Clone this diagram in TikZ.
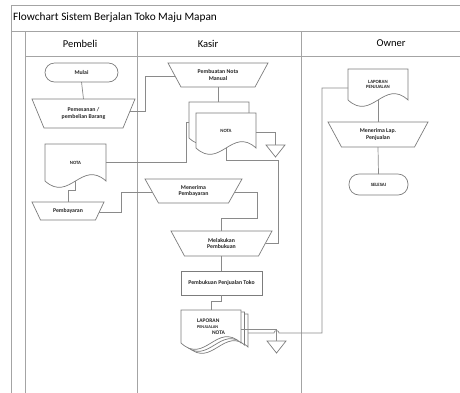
\documentclass[tikz,border=0pt]{standalone}
\usepackage{fontspec}
\setmainfont{Carlito}
\usetikzlibrary{calc,backgrounds}
\definecolor{framec}{HTML}{A4A4A4}
\definecolor{shapec}{HTML}{7C7C7C}
\definecolor{connc}{HTML}{8A8A8A}
\newcommand\wv{22}
\newcommand\docshape[1]{\draw[shp] (#1.south west) -- (#1.north west) -- (#1.north east) -- (#1.south east) .. controls ($(#1.south east)!0.4!(#1.south west)+(0,-\wv)$) and ($(#1.south west)!0.4!(#1.south east)+(0,\wv)$) .. (#1.south west) -- cycle;}
\newcommand\trapshape[2]{\draw[shp] (#1.north west) -- (#1.north east) -- ([xshift=-#2pt]#1.south east) -- ([xshift=#2pt]#1.south west) -- cycle;}
\newcommand\trishape[1]{\draw[shp] (#1.north west) -- (#1.north east) -- (#1.south) -- cycle;}
\begin{document}
\begin{tikzpicture}[x=1pt,y=-1pt,
  frame/.style={draw=framec,line width=0.9pt},
  shp/.style={draw=shapec,line width=0.7pt,fill=white},
  conn/.style={draw=connc,line width=0.7pt},
  lbl/.style={font=\fontsize{5.8}{6.8}\selectfont\bfseries,align=center,text=black!85,inner sep=0pt,outer sep=0pt},
  small/.style={font=\fontsize{4.8}{5.8}\selectfont\bfseries},
  head/.style={font=\fontsize{10.5}{12}\selectfont,text=black,inner sep=0pt},
  sz/.style n args={2}{minimum width=#1pt,minimum height=#2pt}]
\useasboundingbox (0,0) rectangle (460,392);
% title and lane headers
\node[head,anchor=west,font=\fontsize{11.3}{13}\selectfont] (title) at (13,18) {Flowchart Sistem Berjalan Toko Maju Mapan};
\node[head] (hpembeli) at (80,43.5) {Pembeli};
\node[head] (hkasir) at (208,43.5) {Kasir};
\node[head] (howner) at (391,43.5) {Owner};
% Pembeli
\node[lbl,sz={73}{19}] (mulai) at (81.5,72.5) {Mulai};
\node[lbl,sz={103}{29}] (pem) at (83.5,113.5) {Pemesanan /\\pembelian Barang};
\node[lbl,small,sz={61}{37}] (notaP) at (75.5,162.5) {NOTA};
\node[lbl,sz={72}{18}] (pby) at (68,211) {Pembayaran};
% Kasir
\node[lbl,sz={100}{24}] (pbt) at (218,75) {Pembuatan Nota\\Manual};
\node[lbl,sz={60}{36}] (nkb) at (219,120) {};
\node[lbl,small,sz={60}{35}] (nk) at (226,130.5) {NOTA};
\node[lbl,sz={19}{12}] (tri1) at (275.5,151) {};
\node[lbl,sz={97}{24}] (mpb) at (193.5,191) {Menerima\\Pembayaran};
\node[lbl,sz={101}{25}] (mel) at (221.5,243.5) {Melakukan\\Pembukuan};
\node[lbl,sz={81}{24}] (pbk) at (221.5,283) {Pembukuan Penjualan Toko};
\node[lbl,sz={60}{33}] (lapb) at (218,330.5) {};
\node[lbl,sz={60}{33}] (lapm) at (214.5,328.5) {};
\node[lbl,sz={60}{33},align=left,font=\fontsize{5.5}{6}\selectfont\bfseries] (lap) at (211,326.5) {LAPORAN\\{\fontsize{4.3}{6}\selectfont PENJUALAN}\\\hspace*{15pt}NOTA};
\node[lbl,sz={19}{12}] (tri2) at (276.5,347) {};
% Owner
\node[lbl,small,sz={60}{31}] (odoc) at (378,84.5) {LAPORAN\\PENJUALAN};
\node[lbl,sz={100}{25}] (otp) at (378,134.5) {Menerima Lap.\\Penjualan};
\node[lbl,small,sz={59}{21}] (sel) at (378.5,184.5) {SELESAI};
\begin{scope}[on background layer]
  \draw[frame] (11,5) -- (462,5);
  \draw[frame] (11,5) -- (11,394);
  \draw[frame] (11,31) -- (462,31);
  \draw[frame] (25,31) -- (25,394);
  \draw[frame] (25,56) -- (462,56);
  \draw[frame] (137,31) -- (137,394);
  \draw[frame] (301,31) -- (301,394);
  \draw[shp,rounded corners=9.5pt] (mulai.north west) rectangle (mulai.south east);
  \trapshape{pem}{12}
  \docshape{notaP}
  \trapshape{pby}{8.5}
  \trapshape{pbt}{13}
  \docshape{nkb}
  \docshape{nk}
  \trishape{tri1}
  \trapshape{mpb}{13.5}
  \trapshape{mel}{13.5}
  \draw[shp] (pbk.north west) rectangle (pbk.south east);
  \docshape{lapb}
  \docshape{lapm}
  \docshape{lap}
  \trishape{tri2}
  \docshape{odoc}
  \trapshape{otp}{13.5}
  \draw[shp,rounded corners=10pt] (sel.north west) rectangle (sel.south east);
\end{scope}
% edge points
\coordinate (pemR) at ($(pem.north east)!0.41!([xshift=-12pt]pem.south east)$);
\coordinate (pbtL) at ($(pbt.north west)!0.55!([xshift=13pt]pbt.south west)$);
\coordinate (pbyR) at ($(pby.north east)!0.55!([xshift=-8.5pt]pby.south east)$);
\coordinate (mpbL) at ($(mpb.north west)!0.54!([xshift=13.5pt]mpb.south west)$);
\coordinate (mpbR) at ($(mpb.north east)!0.54!([xshift=-13.5pt]mpb.south east)$);
\coordinate (melR) at ($(mel.north east)!0.48!([xshift=-13.5pt]mel.south east)$);
\coordinate (odocW) at ([yshift=-3.5pt]odoc.west);
\coordinate (k1) at (145,0);
\coordinate (k2) at (278,160);
\coordinate (k3) at (186,0);
\coordinate (k4) at (68,190);
\coordinate (k5) at (257,218);
\coordinate (k6) at (211,301);
\coordinate (k7) at (322,0);
\coordinate (k8) at (276.5,333);
\coordinate (k9) at (121,0);
% connectors
\draw[conn] (mulai.south) -- (pem.north);
\draw[conn] (pemR) -| (k1 |- pbtL) -- (pbtL);
\draw[conn] (pbt.south) -- (pbt.south |- nkb.north);
\draw[conn] ([yshift=-1.5pt]nk.east) -| (tri1.north);
\draw[conn] (nk.south) |- (k2) |- (melR);
\draw[conn] ([yshift=-2pt]nkb.west) -| (k3 |- notaP.east) -- (notaP.east);
\draw[conn] (notaP.south) |- (k4) -- (pby.north);
\draw[conn] (pbyR) -| (k9 |- mpbL) -- (mpbL);
\draw[conn] (mpbR) -| (k5) -| (mel.north);
\draw[conn] (mel.south) -- (pbk.north);
\draw[conn] (pbk.south) |- (k6) -- (lap.north);
\draw[conn] ([yshift=-2.5pt]lap.east) -| (tri2.north);
\draw[conn] ([yshift=-2.5pt]lapb.east) -- ([xshift=-2.5pt]k8) arc[start angle=180,end angle=0,radius=2.5pt] -| (k7 |- odocW) -- (odocW);
\draw[conn] (odoc.south) -- (otp.north);
\draw[conn] (otp.south) -- (sel.north);
\end{tikzpicture}
\end{document}
